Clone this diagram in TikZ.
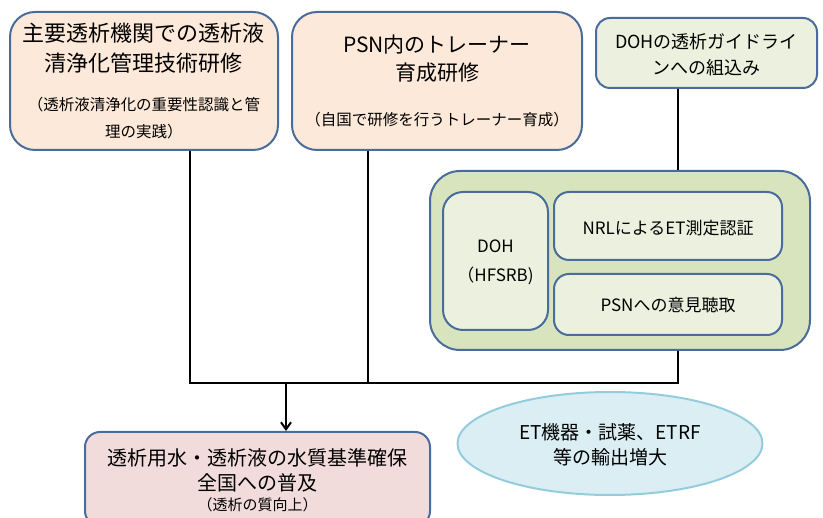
\documentclass[tikz,border=0pt]{standalone}
\usepackage{fontspec}
\setmainfont{Noto Sans CJK JP}
\usetikzlibrary{shapes.geometric,arrows.meta}
\definecolor{bord}{RGB}{74,108,156}
\definecolor{peach}{RGB}{253,233,217}
\definecolor{lgreen}{RGB}{235,241,222}
\definecolor{mgreen}{RGB}{215,228,189}
\definecolor{pink}{RGB}{242,220,219}
\definecolor{lblue}{RGB}{218,238,243}
\definecolor{eblue}{RGB}{147,205,221}
\tikzset{
  box/.style={draw=bord, line width=2pt, inner sep=0pt},
  txt/.style={align=center, inner sep=0pt, text=black},
  conn/.style={draw=black, line width=2pt},
}
\begin{document}
\begin{tikzpicture}[x=1pt,y=-1pt]
\useasboundingbox (0,0) rectangle (823,518);
% top boxes
\node[box, fill=peach, minimum width=268pt, minimum height=138pt, rounded corners=25pt] (b1) at (144,81) {};
\node[box, fill=peach, minimum width=290pt, minimum height=138pt, rounded corners=25pt] (b2) at (437,81) {};
\node[box, fill=lgreen, minimum width=221pt, minimum height=70pt, rounded corners=14pt] (b3) at (706.5,53) {};
% container
\node[box, fill=mgreen, minimum width=380pt, minimum height=179pt, rounded corners=30pt] (cont) at (620,260.5) {};
\node[box, fill=lgreen, minimum width=105pt, minimum height=138pt, rounded corners=20pt] (doh) at (495.5,261) {};
\node[box, fill=lgreen, minimum width=228pt, minimum height=68pt, rounded corners=15pt] (nrl) at (668,226) {};
\node[box, fill=lgreen, minimum width=228pt, minimum height=61pt, rounded corners=15pt] (psn) at (668,304.5) {};
% bottom
\node[box, fill=pink, minimum width=345pt, minimum height=94pt, rounded corners=15pt] (res) at (257.5,479) {};
\node[draw=eblue, line width=2pt, fill=lblue, ellipse, minimum width=305pt, minimum height=103pt, inner sep=0pt] (ell) at (610,443.5) {};
% texts
\node[txt, font=\fontsize{22}{30}\selectfont] (t1) at (144,48) {主要透析機関での透析液\\清浄化管理技術研修};
\node[txt, font=\fontsize{15.5}{27}\selectfont] (s1) at (144,118.5) {（透析液清浄化の重要性認識と管\\理の実践）};
\node[txt, font=\fontsize{21}{28}\selectfont] (t2) at (437,59) {PSN内のトレーナー\\育成研修};
\node[txt, font=\fontsize{15.5}{27}\selectfont] (s2) at (437,120) {（自国で研修を行うトレーナー育成）};
\node[txt, font=\fontsize{18}{26}\selectfont] (t3) at (706.5,55) {DOHの透析ガイドライ\\ンへの組込み};
\node[txt, font=\fontsize{17}{29}\selectfont] (tdoh) at (495.5,262.5) {DOH\\（HFSRB)};
\node[txt, font=\fontsize{17}{24}\selectfont] (tnrl) at (668,228) {NRLによるET測定認証};
\node[txt, font=\fontsize{17}{24}\selectfont] (tpsn) at (668,305) {PSNへの意見聴取};
\node[txt, font=\fontsize{20}{25}\selectfont] (tres) at (257.5,470.5) {透析用水・透析液の水質基準確保\\全国への普及};
\node[txt, font=\fontsize{15}{20}\selectfont] (sres) at (257.5,505) {（透析の質向上）};
\node[txt, font=\fontsize{19}{25}\selectfont] (tell) at (610,444.5) {ET機器・試薬、ETRF\\等の輸出増大};
% connectors
\coordinate (j1) at (190,383);
\coordinate (j2) at (368,383);
\coordinate (j3) at (678,383);
\coordinate (ja) at (286,383);
\draw[conn] (b1.south -| j1) -- (j1) -- (j3) -- (cont.south -| j3);
\draw[conn] (b2.south -| j2) -- (j2);
\draw[conn] (b3.south -| j3) -- (cont.north -| j3);
\draw[conn, -{Straight Barb[length=7pt,width=10pt]}] (ja) -- (res.north -| ja);
\end{tikzpicture}
\end{document}
